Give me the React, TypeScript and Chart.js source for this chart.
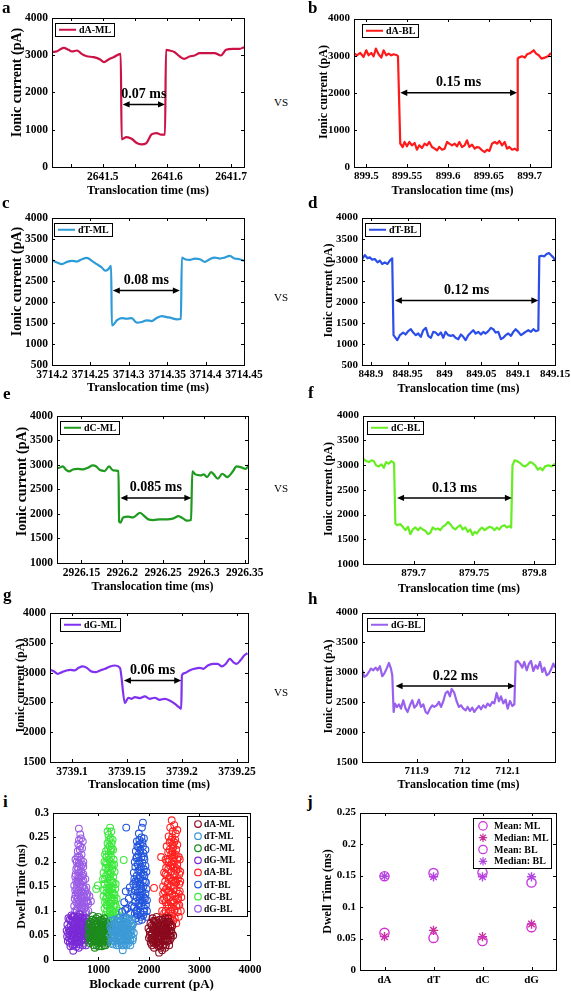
import React, { useEffect, useRef } from "react";
import { Chart, registerables } from "chart.js";

Chart.register(...registerables);

const SERIF = "'Liberation Serif', 'Times New Roman', Times, serif";

type Pt = [number, number];

/* ------------------------------------------------------------------ */
/* Current traces: [translocation time (ms), ionic current (pA)]       */
/* ------------------------------------------------------------------ */
const traceA_ML: Pt[] = [
  [2641.421, 3080], [2641.429, 3107], [2641.439, 3196], [2641.447, 3143], [2641.452, 3098], [2641.46, 3125],
  [2641.467, 3036], [2641.475, 2973], [2641.486, 2946], [2641.496, 2884], [2641.502, 2812], [2641.509, 2884],
  [2641.517, 2946], [2641.528, 3036], [2641.5295, 741], [2641.537, 804], [2641.545, 759], [2641.553, 643],
  [2641.56, 607], [2641.568, 643], [2641.576, 875], [2641.584, 910], [2641.591, 866], [2641.597, 866],
  [2641.5985, 3143], [2641.604, 3125], [2641.612, 3080], [2641.62, 2964], [2641.627, 2902], [2641.635, 2964],
  [2641.643, 2991], [2641.651, 3054], [2641.661, 3054], [2641.674, 3054], [2641.684, 2991], [2641.692, 3143],
  [2641.703, 3170], [2641.713, 3170], [2641.72, 3214],
];

const traceA_BL: Pt[] = [
  [899.4853, 3056], [899.4886, 3011], [899.4927, 3074], [899.4967, 2966], [899.5, 3146], [899.5029, 3011],
  [899.5061, 3074], [899.509, 2984], [899.5118, 3191], [899.5151, 3038], [899.5184, 2948], [899.5212, 3146],
  [899.5245, 3011], [899.5273, 3056], [899.5306, 3011], [899.5335, 3038], [899.5376, 3011], [899.5388, 2984],
  [899.5416, 629], [899.5445, 539], [899.5469, 674], [899.5498, 557], [899.5527, 674], [899.5559, 584],
  [899.5592, 647], [899.562, 467], [899.5649, 584], [899.5682, 512], [899.5714, 629], [899.5743, 584],
  [899.5771, 674], [899.5804, 539], [899.5837, 494], [899.5865, 449], [899.5894, 539], [899.5927, 467],
  [899.5959, 494], [899.5988, 674], [899.6016, 629], [899.6049, 584], [899.6082, 629], [899.611, 557],
  [899.6139, 674], [899.6171, 539], [899.6204, 584], [899.6233, 719], [899.6261, 539], [899.6294, 602],
  [899.6327, 494], [899.6355, 539], [899.6384, 521], [899.6416, 449], [899.6449, 404], [899.6478, 467],
  [899.6506, 431], [899.6539, 629], [899.6571, 674], [899.66, 629], [899.6629, 701], [899.6661, 584],
  [899.6694, 674], [899.6722, 494], [899.6751, 539], [899.6784, 467], [899.6816, 494], [899.6845, 449],
  [899.6853, 2921], [899.6865, 2948], [899.6906, 2984], [899.6939, 2948], [899.6967, 3038], [899.7008, 3074],
  [899.7049, 3146], [899.7078, 3056], [899.711, 3011], [899.7143, 2921], [899.7184, 2948], [899.7224, 2984],
  [899.726, 3074],
];

const traceT_ML: Pt[] = [
  [3714.2, 2993], [3714.2065, 2938], [3714.213, 2899], [3714.2195, 2954], [3714.226, 2978], [3714.2324, 2962],
  [3714.2389, 3017], [3714.2454, 3048], [3714.2519, 2978], [3714.2584, 2899], [3714.2649, 2820], [3714.2692, 2742],
  [3714.2735, 2781], [3714.277, 2860], [3714.2779, 1444], [3714.28, 1460], [3714.2843, 1562], [3714.2908, 1617],
  [3714.2973, 1601], [3714.3038, 1617], [3714.3103, 1507], [3714.3168, 1523], [3714.3233, 1562], [3714.3298, 1546],
  [3714.3362, 1617], [3714.3427, 1664], [3714.3492, 1640], [3714.3557, 1617], [3714.3622, 1585], [3714.3678, 1601],
  [3714.3691, 3056], [3714.373, 3017], [3714.3795, 3001], [3714.386, 3033], [3714.3925, 3017], [3714.399, 2954],
  [3714.4054, 3017], [3714.4119, 3056], [3714.4184, 3033], [3714.4249, 3056], [3714.4314, 3095], [3714.4379, 3033],
  [3714.4444, 3017], [3714.45, 2978],
];

const traceT_BL: Pt[] = [
  [848.8882, 3017], [848.8918, 3111], [848.8955, 3033], [848.8986, 3056], [848.9018, 3001], [848.9054, 3017],
  [848.9091, 2938], [848.9122, 2978], [848.9154, 2899], [848.919, 2938], [848.9226, 2899], [848.9258, 2978],
  [848.929, 3033], [848.9308, 1208], [848.9326, 1169], [848.9358, 1090], [848.9394, 1208], [848.9439, 1271],
  [848.9471, 1224], [848.9507, 1303], [848.9543, 1350], [848.9575, 1271], [848.9611, 1208], [848.9643, 1248],
  [848.9679, 1169], [848.9711, 1326], [848.9747, 1381], [848.9779, 1193], [848.9815, 1145], [848.9847, 1287],
  [848.9879, 1271], [848.9915, 1208], [848.9951, 1271], [848.9983, 1145], [849.0014, 1287], [849.005, 1208],
  [849.0087, 1193], [849.0119, 1208], [849.015, 1145], [849.0187, 1114], [849.0223, 1224], [849.0255, 1169],
  [849.0286, 1090], [849.0322, 1208], [849.0359, 1271], [849.039, 1326], [849.0422, 1248], [849.0458, 1287],
  [849.0495, 1224], [849.0526, 1287], [849.0558, 1248], [849.0594, 1303], [849.063, 1381], [849.0662, 1350],
  [849.0694, 1271], [849.073, 1287], [849.0766, 1114], [849.0798, 1145], [849.083, 1208], [849.0866, 1248],
  [849.0902, 1193], [849.0934, 1287], [849.0966, 1350], [849.1002, 1287], [849.1038, 1208], [849.107, 1248],
  [849.1101, 1287], [849.1138, 1326], [849.1174, 1287], [849.1206, 1350], [849.1238, 1303], [849.1274, 1326],
  [849.1287, 3080], [849.1319, 3095], [849.1355, 3080], [849.1386, 3135], [849.1418, 3158], [849.1454, 3095],
  [849.1477, 3056], [849.15, 2978],
];

const traceC_ML: Pt[] = [
  [2926.1187, 2935], [2926.1228, 2942], [2926.127, 2969], [2926.1311, 2901], [2926.1352, 2867], [2926.1393, 2908],
  [2926.1455, 2921], [2926.1516, 2908], [2926.1578, 2942], [2926.164, 2989], [2926.1681, 2969], [2926.1722, 2901],
  [2926.1784, 2874], [2926.1837, 2969], [2926.1887, 2888], [2926.1953, 2874], [2926.1961, 1843], [2926.1977, 1822],
  [2926.201, 1930], [2926.2072, 1944], [2926.2134, 1930], [2926.2175, 1978], [2926.2216, 2025], [2926.2257, 1978],
  [2926.2319, 1890], [2926.2381, 1876], [2926.2463, 1890], [2926.2545, 1890], [2926.2628, 1910], [2926.2689, 1957],
  [2926.2743, 1910], [2926.2792, 1863], [2926.2842, 1876], [2926.2858, 2867], [2926.2895, 2807], [2926.2957, 2787],
  [2926.2998, 2807], [2926.3039, 2753], [2926.3088, 2854], [2926.3121, 2807], [2926.3171, 2719], [2926.3224, 2820],
  [2926.3286, 2753], [2926.3348, 2854], [2926.3401, 2969], [2926.345, 2955], [2926.3512, 2921], [2926.3553, 3009],
];

const traceC_BL: Pt[] = [
  [879.6581, 3128], [879.6606, 3081], [879.6628, 3060], [879.665, 3094], [879.6669, 3081], [879.6689, 2993],
  [879.6711, 2973], [879.6733, 3013], [879.6752, 2946], [879.6771, 3060], [879.6793, 3027], [879.6815, 3081],
  [879.6837, 3040], [879.6848, 1819], [879.6862, 1785], [879.689, 1805], [879.6909, 1752], [879.6931, 1685],
  [879.6953, 1752], [879.6972, 1604], [879.6992, 1698], [879.7014, 1738], [879.7036, 1685], [879.7055, 1738],
  [879.7074, 1698], [879.7096, 1671], [879.7118, 1604], [879.7138, 1631], [879.7157, 1738], [879.7179, 1698],
  [879.7201, 1718], [879.722, 1685], [879.724, 1752], [879.7262, 1785], [879.7284, 1852], [879.7303, 1805],
  [879.7322, 1738], [879.7344, 1698], [879.7366, 1752], [879.7386, 1785], [879.7405, 1698], [879.7427, 1738],
  [879.7449, 1651], [879.7468, 1698], [879.7488, 1584], [879.7504, 1651], [879.7523, 1617], [879.7543, 1685],
  [879.7565, 1738], [879.7587, 1685], [879.7606, 1718], [879.7625, 1752], [879.7647, 1738], [879.7669, 1685],
  [879.7689, 1738], [879.7708, 1698], [879.773, 1765], [879.7752, 1785], [879.7771, 1738], [879.7791, 1765],
  [879.7807, 1738], [879.7818, 2993], [879.7835, 3094], [879.7854, 3081], [879.7882, 3040], [879.7901, 2993],
  [879.7923, 2973], [879.7945, 3013], [879.7964, 3060], [879.7983, 3040], [879.8006, 2993], [879.8028, 2906],
  [879.8047, 2946], [879.8066, 2893], [879.8088, 2973], [879.8116, 2993], [879.8143, 2973], [879.8171, 3027],
];

const traceG_ML: Pt[] = [
  [3739.0804, 3046], [3739.0834, 3023], [3739.0871, 2979], [3739.091, 3007], [3739.0949, 3035], [3739.0985, 3046],
  [3739.1021, 3035], [3739.106, 3079], [3739.1099, 3102], [3739.1135, 3079], [3739.1172, 3023], [3739.1211, 3007],
  [3739.1256, 3035], [3739.1301, 3063], [3739.1346, 3102], [3739.1391, 3118], [3739.1436, 3079], [3739.1481, 2488],
  [3739.1512, 2577], [3739.1542, 2560], [3739.1572, 2588], [3739.1617, 2571], [3739.1662, 2599], [3739.1707, 2560],
  [3739.1752, 2577], [3739.1797, 2543], [3739.1843, 2560], [3739.1888, 2532], [3739.1933, 2477], [3739.1978, 2410],
  [3739.1993, 2393], [3739.1999, 2951], [3739.2023, 2990], [3739.2068, 3035], [3739.2113, 3063], [3739.2159, 3079],
  [3739.2195, 3063], [3739.2234, 3118], [3739.2279, 3146], [3739.2324, 3146], [3739.2363, 3102], [3739.2399, 3146],
  [3739.2435, 3230], [3739.2466, 3174], [3739.2496, 3146], [3739.2535, 3213], [3739.2565, 3286], [3739.2595, 3324],
];

const traceG_BL: Pt[] = [
  [711.7806, 3035], [711.785, 2923], [711.7901, 2951], [711.7952, 3007], [711.7996, 3063], [711.8048, 3035],
  [711.8099, 3079], [711.8143, 3035], [711.8194, 3102], [711.8245, 2935], [711.8289, 2979], [711.8341, 3063],
  [711.8392, 3157], [711.8436, 3063], [711.8465, 2951], [711.8495, 2337], [711.8524, 2477], [711.8568, 2421],
  [711.8612, 2465], [711.8656, 2393], [711.8707, 2532], [711.8758, 2393], [711.8802, 2337], [711.8853, 2449],
  [711.8905, 2532], [711.8949, 2410], [711.9, 2449], [711.9051, 2543], [711.9095, 2421], [711.9147, 2465],
  [711.9198, 2337], [711.9242, 2309], [711.9293, 2393], [711.9344, 2449], [711.9388, 2421], [711.944, 2449],
  [711.9491, 2504], [711.9535, 2421], [711.9586, 2516], [711.9637, 2655], [711.9681, 2683], [711.9733, 2599],
  [711.9769, 2722], [711.9828, 2655], [711.9879, 2516], [711.993, 2421], [711.9974, 2449], [712.0026, 2393],
  [712.0077, 2365], [712.0121, 2421], [712.0172, 2354], [712.0223, 2410], [712.0267, 2337], [712.0319, 2393],
  [712.037, 2437], [712.0414, 2382], [712.0465, 2449], [712.0516, 2410], [712.056, 2477], [712.0612, 2437],
  [712.0663, 2504], [712.0707, 2482], [712.0758, 2655], [712.0809, 2516], [712.0853, 2599], [712.0905, 2482],
  [712.0956, 2543], [712.1, 2393], [712.1051, 2521], [712.1103, 2437], [712.1147, 2465], [712.1176, 3174],
  [712.122, 3191], [712.1271, 3146], [712.1322, 3079], [712.1366, 3174], [712.1418, 3035], [712.1469, 3146],
  [712.1513, 3191], [712.1564, 3023], [712.1615, 3118], [712.1659, 3063], [712.1711, 3174], [712.1762, 3007],
  [712.1806, 3079], [712.1857, 2951], [712.1908, 2979], [712.1952, 3046], [712.2004, 3146], [712.204, 3079],
];

/* dwell-time markers: [start ms, end ms, level pA] */
const arrowA_ML = [2641.531, 2641.597, 1680];
const arrowA_BL = [899.5416, 899.6845, 2000];
const arrowT_ML = [3714.2792, 3714.3665, 2270];
const arrowT_BL = [848.9326, 849.1274, 2030];
const arrowC_ML = [2926.1977, 2926.2846, 2328];
const arrowC_BL = [879.6862, 879.7813, 2336];
const arrowG_ML = [3739.1472, 3739.1993, 2867];
const arrowG_BL = [711.8538, 712.1161, 2772];
const dwellLabels = ["0.07 ms", "0.15 ms", "0.08 ms", "0.12 ms", "0.085 ms", "0.13 ms", "0.06 ms", "0.22 ms"];

/* axis ranges, tick positions and tick labels */
const rangeA_ML = [2641.421, 2641.72];
const rangeA_BL = [899.485, 899.726];
const rangeT_ML = [3714.2, 3714.45];
const rangeT_BL = [848.888, 849.15];
const rangeC_ML = [2926.12, 2926.354];
const rangeC_BL = [879.658, 879.817];
const rangeG_ML = [3739.08, 3739.26];
const rangeG_BL = [711.78, 712.204];

const ticksA_ML = [2641.45, 2641.5, 2641.55, 2641.6, 2641.65, 2641.7];
const labelsA_ML = [2641.5, 2641.6, 2641.7];
const ticksA_BL = [899.5, 899.55, 899.6, 899.65, 899.7];
const ticksT_ML = [3714.2, 3714.25, 3714.3, 3714.35, 3714.4, 3714.45];
const ticksT_BL = [848.9, 848.95, 849, 849.05, 849.1, 849.15];
const ticksC_ML = [2926.15, 2926.2, 2926.25, 2926.3, 2926.35];
const ticksC_BL = [879.7, 879.75, 879.8];
const ticksG_ML = [3739.1, 3739.15, 3739.2, 3739.25];
const ticksG_BL = [711.9, 712, 712.1];

const currentTicks0 = [0, 1000, 2000, 3000, 4000];
const currentTicks500 = [500, 1000, 1500, 2000, 2500, 3000, 3500, 4000];
const currentTicks1000 = [1000, 1500, 2000, 2500, 3000, 3500, 4000];
const currentTicks1500 = [1500, 2000, 2500, 3000, 3500, 4000];

/* ------------------------------------------------------------------ */
/* Panel i: [blockade current (pA), dwell time (ms)]                   */
/* ------------------------------------------------------------------ */
const scatterA_ML: Pt[] = [
  [2020, 0.05], [2050, 0.07], [2080, 0.04], [2110, 0.06], [2140, 0.08], [2170, 0.045], [2200, 0.065], [2230, 0.035],
  [2260, 0.075], [2290, 0.055], [2320, 0.085], [2350, 0.045], [2380, 0.065], [2410, 0.04], [2440, 0.06], [1990, 0.065],
  [2035, 0.035], [2065, 0.055], [2095, 0.08], [2125, 0.04], [2155, 0.062], [2185, 0.028], [2215, 0.05], [2245, 0.07],
  [2275, 0.04], [2305, 0.065], [2335, 0.03], [2365, 0.055], [2395, 0.078], [2425, 0.05], [2200, 0.015], [2260, 0.02],
  [2100, 0.025], [2150, 0.088], [2250, 0.055], [2180, 0.075], [2310, 0.042], [2070, 0.085], [2400, 0.03], [2460, 0.07],
  [2130, 0.05], [2230, 0.058], [2340, 0.068], [2050, 0.052], [2280, 0.03], [2190, 0.042], [2360, 0.078], [2000, 0.045],
  [2480, 0.05], [2160, 0.035], [2090, 0.068], [2210, 0.082], [2320, 0.05], [2430, 0.072], [2060, 0.03], [2270, 0.062],
  [2015, 0.058], [2045, 0.042], [2075, 0.062], [2105, 0.048], [2135, 0.07], [2165, 0.055], [2195, 0.038], [2225, 0.072],
  [2255, 0.045], [2285, 0.068], [2315, 0.058], [2345, 0.075], [2375, 0.04], [2405, 0.058], [2435, 0.045], [2030, 0.075],
  [2060, 0.045], [2090, 0.035], [2120, 0.065], [2150, 0.052], [2180, 0.06], [2210, 0.03], [2240, 0.048], [2270, 0.082],
  [2300, 0.05], [2330, 0.062], [2360, 0.038], [2390, 0.05], [2420, 0.068], [2450, 0.055], [2110, 0.078], [2170, 0.068],
  [2230, 0.025], [2290, 0.078], [2350, 0.06], [2240, 0.062], [2200, 0.048], [2140, 0.032], [2320, 0.025], [2380, 0.085],
];
const scatterT_ML: Pt[] = [
  [1240, 0.05], [1270, 0.07], [1300, 0.04], [1330, 0.06], [1360, 0.08], [1390, 0.045], [1420, 0.065], [1450, 0.035],
  [1480, 0.075], [1510, 0.055], [1540, 0.085], [1570, 0.045], [1600, 0.065], [1630, 0.04], [1660, 0.06], [1690, 0.075],
  [1255, 0.035], [1285, 0.058], [1315, 0.082], [1345, 0.04], [1375, 0.062], [1405, 0.03], [1435, 0.05], [1465, 0.07],
  [1495, 0.04], [1525, 0.065], [1555, 0.03], [1585, 0.055], [1615, 0.08], [1645, 0.05], [1675, 0.04], [1480, 0.02],
  [1400, 0.085], [1350, 0.052], [1440, 0.078], [1520, 0.048], [1580, 0.072], [1620, 0.058], [1300, 0.065], [1450, 0.055],
  [1550, 0.06], [1380, 0.035], [1490, 0.088], [1260, 0.062], [1700, 0.055], [1410, 0.055], [1530, 0.035], [1600, 0.035],
  [1340, 0.072], [1470, 0.045], [1560, 0.075], [1650, 0.07], [1320, 0.045], [1430, 0.038],
  [1235, 0.068], [1265, 0.045], [1295, 0.052], [1325, 0.075], [1355, 0.065], [1385, 0.058], [1415, 0.042], [1445, 0.068],
  [1475, 0.058], [1505, 0.068], [1535, 0.052], [1565, 0.06], [1595, 0.048], [1625, 0.068], [1655, 0.082], [1685, 0.045],
  [1250, 0.08], [1280, 0.032], [1310, 0.038], [1340, 0.058], [1370, 0.048], [1400, 0.07], [1430, 0.062], [1460, 0.03],
  [1490, 0.062], [1520, 0.078], [1550, 0.045], [1580, 0.04], [1610, 0.05], [1640, 0.062], [1670, 0.07], [1360, 0.03],
  [1420, 0.08], [1500, 0.03], [1590, 0.085], [1450, 0.045], [1540, 0.07], [1330, 0.048], [1630, 0.03], [1390, 0.072],
];
const scatterC_ML: Pt[] = [
  [800, 0.05], [830, 0.065], [860, 0.04], [890, 0.075], [920, 0.055], [950, 0.085], [980, 0.045], [1010, 0.07],
  [1040, 0.035], [1070, 0.06], [1100, 0.078], [1130, 0.048], [1160, 0.066], [1190, 0.04], [1210, 0.058], [815, 0.035],
  [845, 0.078], [875, 0.058], [905, 0.03], [935, 0.068], [965, 0.052], [995, 0.088], [1025, 0.058], [1055, 0.042],
  [1085, 0.068], [1115, 0.03], [1145, 0.055], [1175, 0.075], [880, 0.045], [940, 0.04], [1000, 0.028], [1060, 0.082],
  [1120, 0.062], [1030, 0.048], [960, 0.072], [900, 0.062], [850, 0.052], [1080, 0.05], [1150, 0.038], [990, 0.06],
  [1045, 0.072], [925, 0.025], [1105, 0.04], [970, 0.035], [1015, 0.045], [955, 0.058], [1065, 0.028], [890, 0.09],
  [1180, 0.052], [830, 0.045], [910, 0.048], [1035, 0.065], [1125, 0.072], [985, 0.075],
  [805, 0.065], [835, 0.055], [865, 0.07], [895, 0.05], [925, 0.08], [955, 0.04], [985, 0.052], [1015, 0.08],
  [1045, 0.055], [1075, 0.045], [1105, 0.06], [1135, 0.07], [1165, 0.045], [1195, 0.062], [820, 0.075], [850, 0.038],
  [880, 0.065], [910, 0.04], [940, 0.058], [970, 0.062], [1000, 0.045], [1030, 0.035], [1060, 0.065], [1090, 0.035],
  [1120, 0.052], [1150, 0.078], [1180, 0.035], [1200, 0.07], [870, 0.082], [930, 0.072], [990, 0.038], [1050, 0.05],
  [1110, 0.085], [960, 0.03], [1020, 0.062], [900, 0.042], [1140, 0.03], [1070, 0.072], [945, 0.048], [1005, 0.068],
];
const scatterG_ML: Pt[] = [
  [420, 0.045], [455, 0.062], [480, 0.038], [510, 0.071], [535, 0.052], [560, 0.084], [590, 0.041], [615, 0.066],
  [640, 0.049], [665, 0.078], [690, 0.058], [715, 0.035], [745, 0.069], [770, 0.047], [795, 0.06], [385, 0.072],
  [400, 0.055], [430, 0.082], [465, 0.091], [495, 0.049], [525, 0.032], [550, 0.058], [575, 0.073], [600, 0.088],
  [625, 0.036], [655, 0.06], [680, 0.043], [705, 0.083], [730, 0.054], [760, 0.078], [780, 0.062], [370, 0.06],
  [445, 0.028], [470, 0.054], [500, 0.019], [540, 0.04], [585, 0.055], [610, 0.025], [650, 0.071], [700, 0.064],
  [740, 0.042], [810, 0.072], [520, 0.088], [560, 0.027], [630, 0.093], [690, 0.03], [450, 0.07], [600, 0.06],
  [580, 0.047], [660, 0.052], [720, 0.075], [395, 0.039], [485, 0.078], [545, 0.066], [620, 0.077], [675, 0.087],
  [755, 0.03], [430, 0.059], [505, 0.06], [570, 0.035],
  [410, 0.065], [440, 0.05], [470, 0.042], [500, 0.065], [530, 0.075], [555, 0.045], [585, 0.068], [610, 0.052],
  [635, 0.06], [660, 0.04], [685, 0.07], [710, 0.05], [735, 0.062], [765, 0.055], [790, 0.045], [380, 0.048],
  [405, 0.085], [435, 0.035], [460, 0.08], [490, 0.03], [515, 0.055], [545, 0.08], [570, 0.06], [595, 0.078],
  [620, 0.045], [645, 0.085], [670, 0.065], [695, 0.045], [725, 0.04], [750, 0.085], [775, 0.072], [800, 0.052],
  [460, 0.06], [520, 0.045], [580, 0.038], [640, 0.07], [700, 0.078], [760, 0.065], [490, 0.088], [610, 0.032],
];
const scatterA_BL: Pt[] = [
  [2450, 0.285], [2500, 0.275], [2420, 0.27], [2470, 0.262], [2530, 0.258], [2390, 0.252], [2440, 0.245], [2500, 0.24],
  [2560, 0.235], [2350, 0.232], [2410, 0.225], [2470, 0.22], [2530, 0.215], [2590, 0.21], [2330, 0.205], [2390, 0.2],
  [2450, 0.195], [2510, 0.19], [2570, 0.185], [2620, 0.18], [2300, 0.178], [2360, 0.172], [2420, 0.168], [2480, 0.162],
  [2540, 0.158], [2600, 0.155], [2280, 0.15], [2340, 0.145], [2400, 0.14], [2460, 0.135], [2520, 0.13], [2580, 0.125],
  [2640, 0.128], [2270, 0.122], [2330, 0.118], [2390, 0.112], [2450, 0.108], [2510, 0.102], [2570, 0.098], [2630, 0.1],
  [2300, 0.095], [2360, 0.09], [2420, 0.085], [2480, 0.08], [2540, 0.075], [2380, 0.07], [2450, 0.068], [2100, 0.147],
  [2240, 0.21], [2560, 0.265], [2480, 0.23], [2380, 0.185], [2550, 0.142], [2320, 0.16], [2430, 0.118], [2610, 0.205],
  [2500, 0.152], [2350, 0.128], [2590, 0.088], [2260, 0.1],
  [2460, 0.25], [2520, 0.245], [2410, 0.24], [2470, 0.235], [2540, 0.225], [2380, 0.22], [2440, 0.215], [2500, 0.21],
  [2560, 0.205], [2360, 0.2], [2420, 0.192], [2480, 0.188], [2540, 0.182], [2600, 0.175], [2330, 0.175], [2390, 0.165],
  [2450, 0.16], [2510, 0.175], [2570, 0.165], [2620, 0.16], [2310, 0.14], [2370, 0.155], [2430, 0.15], [2490, 0.145],
  [2550, 0.125], [2610, 0.14], [2300, 0.125], [2360, 0.11], [2420, 0.128], [2480, 0.122], [2540, 0.11], [2600, 0.112],
  [2330, 0.1], [2390, 0.095], [2450, 0.09], [2510, 0.085], [2570, 0.112], [2420, 0.1], [2490, 0.2], [2440, 0.18],
  [2520, 0.16], [2400, 0.205], [2460, 0.222], [2560, 0.195], [2340, 0.188], [2500, 0.118], [2380, 0.138], [2590, 0.135],
  [2280, 0.135], [2470, 0.095],
];
const scatterT_BL: Pt[] = [
  [1550, 0.27], [1880, 0.28], [1860, 0.27], [1800, 0.258], [1850, 0.25], [1900, 0.248], [1760, 0.242], [1820, 0.236],
  [1880, 0.232], [1930, 0.225], [1740, 0.222], [1790, 0.215], [1850, 0.21], [1910, 0.205], [1720, 0.2], [1780, 0.195],
  [1840, 0.19], [1900, 0.185], [1950, 0.18], [1700, 0.178], [1760, 0.172], [1820, 0.168], [1880, 0.162], [1940, 0.158],
  [1690, 0.155], [1750, 0.15], [1810, 0.145], [1870, 0.14], [1930, 0.135], [1700, 0.132], [1760, 0.128], [1820, 0.122],
  [1880, 0.118], [1940, 0.112], [1710, 0.108], [1770, 0.102], [1830, 0.098], [1890, 0.092], [1950, 0.088], [1740, 0.085],
  [1800, 0.08], [1860, 0.082], [1470, 0.098], [1510, 0.118], [1540, 0.14], [1570, 0.105], [1600, 0.125], [1630, 0.095],
  [1650, 0.14], [1490, 0.085], [1560, 0.085], [1620, 0.148], [1660, 0.11], [1530, 0.102], [1790, 0.23], [1850, 0.145],
  [1730, 0.16], [1900, 0.21], [1800, 0.11], [1920, 0.125],
  [1810, 0.245], [1870, 0.24], [1770, 0.232], [1830, 0.225], [1890, 0.218], [1750, 0.208], [1810, 0.202], [1870, 0.198],
  [1930, 0.192], [1730, 0.19], [1790, 0.182], [1850, 0.178], [1910, 0.172], [1710, 0.165], [1770, 0.16], [1830, 0.155],
  [1890, 0.15], [1950, 0.145], [1720, 0.142], [1780, 0.138], [1840, 0.132], [1900, 0.128], [1960, 0.122], [1730, 0.118],
  [1790, 0.115], [1850, 0.11], [1910, 0.105], [1720, 0.095], [1780, 0.092], [1840, 0.088], [1900, 0.098], [1960, 0.1],
  [1760, 0.21], [1820, 0.185], [1880, 0.175], [1800, 0.165], [1860, 0.122], [1920, 0.16], [1750, 0.1], [1810, 0.128],
];
const scatterC_BL: Pt[] = [
  [1230, 0.27], [1255, 0.262], [1200, 0.255], [1240, 0.248], [1280, 0.245], [1180, 0.238], [1220, 0.232], [1265, 0.228],
  [1150, 0.222], [1200, 0.215], [1250, 0.21], [1300, 0.205], [1120, 0.2], [1170, 0.195], [1220, 0.19], [1270, 0.185],
  [1320, 0.18], [1100, 0.178], [1150, 0.172], [1200, 0.168], [1250, 0.162], [1300, 0.158], [1340, 0.155], [1120, 0.155],
  [1170, 0.148], [1220, 0.142], [1270, 0.138], [1320, 0.132], [1100, 0.13], [1150, 0.125], [1200, 0.12], [1250, 0.115],
  [1300, 0.11], [1350, 0.108], [1120, 0.105], [1170, 0.1], [1220, 0.095], [1270, 0.09], [1320, 0.085], [1380, 0.092],
  [1200, 0.078], [1250, 0.07], [1150, 0.085], [1410, 0.1], [987, 0.152], [955, 0.145], [1500, 0.204], [1180, 0.262],
  [1290, 0.225], [1130, 0.215], [1240, 0.178], [1190, 0.135], [1280, 0.122], [1330, 0.098], [1090, 0.165], [1210, 0.205],
  [1160, 0.112], [1260, 0.145], [1310, 0.195], [1230, 0.098],
  [1210, 0.245], [1260, 0.238], [1190, 0.228], [1240, 0.222], [1160, 0.21], [1230, 0.2], [1280, 0.195], [1140, 0.188],
  [1190, 0.182], [1240, 0.175], [1290, 0.17], [1130, 0.165], [1180, 0.158], [1230, 0.152], [1280, 0.148], [1330, 0.145],
  [1110, 0.142], [1160, 0.138], [1210, 0.132], [1260, 0.128], [1310, 0.122], [1130, 0.118], [1180, 0.11], [1230, 0.105],
  [1280, 0.1], [1330, 0.115], [1140, 0.092], [1190, 0.088], [1250, 0.085], [1300, 0.092], [1360, 0.125], [1260, 0.192],
  [1200, 0.145], [1150, 0.198], [1300, 0.135], [1220, 0.115], [1270, 0.158], [1170, 0.128], [1250, 0.225], [1180, 0.175],
];
const scatterG_BL: Pt[] = [
  [612, 0.268], [640, 0.256], [655, 0.248], [690, 0.242], [600, 0.236], [630, 0.225], [665, 0.215], [585, 0.21],
  [545, 0.205], [610, 0.198], [700, 0.2], [650, 0.19], [560, 0.185], [620, 0.178], [680, 0.172], [740, 0.165],
  [540, 0.17], [590, 0.16], [640, 0.155], [700, 0.15], [520, 0.152], [565, 0.145], [610, 0.142], [660, 0.138],
  [720, 0.13], [780, 0.135], [820, 0.13], [850, 0.12], [545, 0.132], [590, 0.125], [635, 0.118], [690, 0.112],
  [740, 0.108], [800, 0.115], [520, 0.11], [570, 0.102], [610, 0.095], [660, 0.1], [710, 0.09], [760, 0.098],
  [505, 0.09], [555, 0.085], [640, 0.083], [690, 0.125], [600, 0.115], [625, 0.165], [580, 0.19], [670, 0.16],
  [725, 0.145], [760, 0.12], [530, 0.125], [650, 0.205], [615, 0.245], [675, 0.228], [560, 0.16], [600, 0.172],
  [655, 0.128], [700, 0.175], [720, 0.115], [580, 0.138],
  [570, 0.2], [630, 0.195], [600, 0.185], [660, 0.18], [550, 0.175], [610, 0.168], [650, 0.17], [700, 0.162],
  [575, 0.155], [625, 0.15], [675, 0.148], [740, 0.14], [540, 0.142], [595, 0.135], [645, 0.132], [700, 0.135],
  [760, 0.13], [560, 0.118], [615, 0.122], [665, 0.115], [710, 0.12], [780, 0.12], [540, 0.1], [590, 0.108],
  [640, 0.1], [690, 0.098], [740, 0.095], [800, 0.1], [620, 0.21], [680, 0.195], [640, 0.232], [590, 0.222],
  [530, 0.09], [720, 0.105], [670, 0.085], [760, 0.148], [610, 0.158], [660, 0.108], [580, 0.128], [700, 0.19],
];
const scatterRangeX = [100, 4000];
const scatterRangeY = [0, 0.3];
const scatterTicksX = [1000, 2000, 3000, 4000];
const scatterTicksY = [0, 0.05, 0.1, 0.15, 0.2, 0.25, 0.3];

/* ------------------------------------------------------------------ */
/* Panel j: mean / median dwell time (ms)                              */
/* ------------------------------------------------------------------ */
const nucleotides = ["dA", "dT", "dC", "dG"];
const meanML = [0.059, 0.051, 0.046, 0.068];
const medianML = [0.053, 0.063, 0.053, 0.073];
const meanBL = [0.149, 0.154, 0.155, 0.139];
const medianBL = [0.149, 0.148, 0.148, 0.148];
const summaryRangeY = [0, 0.25];
const summaryTicksY = [0, 0.05, 0.1, 0.15, 0.2, 0.25];

/* ------------------------------------------------------------------ */
/* Layout (page pixels)                                                */
/* ------------------------------------------------------------------ */
const LAYOUT: Record<string, any> = {
  a: { plot: [52, 17, 244, 167], yTitleX: 17, yTitleSize: 14, yTitleDy: -10, xTitleY: 191, legend: [3, 5], tick: 11.5 },
  b: { plot: [354, 18, 551, 167], yTitleX: 324, yTitleSize: 12, yTitleDy: -1, xTitleY: 191, legend: [8, 5], tick: 11 },
  c: { plot: [52, 217, 244, 365], yTitleX: 17, yTitleSize: 14, yTitleDy: -10, xTitleY: 388, legend: [2, 5], tick: 11.5 },
  d: { plot: [362, 217, 555, 365], yTitleX: 329, yTitleSize: 12, yTitleDy: -1, xTitleY: 389, legend: [3, 5], tick: 11 },
  e: { plot: [57, 415, 248, 563], yTitleX: 22, yTitleSize: 14, yTitleDy: -8, xTitleY: 587, legend: [3, 5], tick: 11.5 },
  f: { plot: [363, 415, 555, 564], yTitleX: 329, yTitleSize: 12, yTitleDy: -1, xTitleY: 589, legend: [4, 5], tick: 11 },
  g: { plot: [50, 612, 248, 762], yTitleX: 21, yTitleSize: 12, yTitleDy: -2, xTitleY: 785, legend: [10, 5], tick: 11.5 },
  h: { plot: [362, 612, 555, 762], yTitleX: 329, yTitleSize: 12, yTitleDy: -1, xTitleY: 785, legend: [5, 5], tick: 11 },
  i: { plot: [53, 812, 250, 960], yTitleX: 22, yTitleSize: 12, yTitleDy: 0, xTitleY: 985, tick: 11.5 },
  j: { plot: [360, 812, 556, 970], yTitleX: 328, yTitleSize: 12, yTitleDy: 0, xTitleY: null, tick: 11 },
};

const LETTERS = [
  { t: "a", x: 2, b: 13 }, { t: "b", x: 308, b: 13 },
  { t: "c", x: 2, b: 208 }, { t: "d", x: 308, b: 208 },
  { t: "e", x: 3, b: 399 }, { t: "f", x: 308, b: 398 },
  { t: "g", x: 3, b: 600 }, { t: "h", x: 308, b: 604 },
  { t: "i", x: 3, b: 807 }, { t: "j", x: 307, b: 807 },
];
const VS_Y = [103, 298, 489, 693];

function geom(L: any) {
  const [pl, pt, pr, pb] = L.plot;
  const x = Math.round(L.yTitleX - 12);
  const y = pt - 10;
  const right = pr + 26;
  const bottom = L.xTitleY ? L.xTitleY + 10 : pb + 20;
  return { x, y, w: right - x, h: bottom - y, yW: pl - x, xH: bottom - pb, padT: 10, padR: 26 };
}

/* ------------------------------------------------------------------ */
/* Decoration plugin: box, inward ticks, y title, legend, arrows       */
/* ------------------------------------------------------------------ */
function drawMarker(ctx: CanvasRenderingContext2D, style: string, x: number, y: number, r: number, color: string) {
  ctx.strokeStyle = color;
  ctx.lineWidth = 1.2;
  ctx.beginPath();
  if (style === "star") {
    for (let k = 0; k < 4; k++) {
      const a = (k * Math.PI) / 4;
      ctx.moveTo(x - r * Math.cos(a), y - r * Math.sin(a));
      ctx.lineTo(x + r * Math.cos(a), y + r * Math.sin(a));
    }
  } else {
    ctx.arc(x, y, r, 0, Math.PI * 2);
  }
  ctx.stroke();
}

const decoPlugin = {
  id: "deco",
  afterDraw(chart: any, _args: any, o: any) {
    const ctx: CanvasRenderingContext2D = chart.ctx;
    const ca = chart.chartArea;
    const L = Math.round(ca.left), T = Math.round(ca.top), R = Math.round(ca.right), B = Math.round(ca.bottom);
    const xs = chart.scales.x, ys = chart.scales.y;
    ctx.save();
    ctx.strokeStyle = "#000";
    ctx.lineWidth = 1;
    ctx.beginPath();
    xs.ticks.forEach((_t: any, i: number) => {
      const px = Math.round(xs.getPixelForTick(i)) + 0.5;
      ctx.moveTo(px, B); ctx.lineTo(px, B - 3);
      ctx.moveTo(px, T); ctx.lineTo(px, T + 3);
    });
    ys.ticks.forEach((_t: any, i: number) => {
      const py = Math.round(ys.getPixelForTick(i)) + 0.5;
      ctx.moveTo(L, py); ctx.lineTo(L + 3, py);
      ctx.moveTo(R, py); ctx.lineTo(R - 3, py);
    });
    ctx.stroke();
    ctx.strokeRect(L + 0.5, T + 0.5, R - L, B - T);

    if (o.yTitle) {
      ctx.save();
      ctx.translate(o.yTitle.x, (T + B) / 2 + o.yTitle.dy);
      ctx.rotate(-Math.PI / 2);
      ctx.font = `bold ${o.yTitle.size}px ${SERIF}`;
      ctx.fillStyle = "#000";
      ctx.textAlign = "center";
      ctx.textBaseline = "middle";
      ctx.fillText(o.yTitle.text, 0, 0);
      ctx.restore();
    }

    if (o.arrow) {
      const p1 = xs.getPixelForValue(o.arrow.x1);
      const p2 = xs.getPixelForValue(o.arrow.x2);
      const py = ys.getPixelForValue(o.arrow.y);
      ctx.strokeStyle = "#000";
      ctx.fillStyle = "#000";
      ctx.lineWidth = 1.5;
      ctx.beginPath();
      ctx.moveTo(p1 + 5, py); ctx.lineTo(p2 - 5, py);
      ctx.stroke();
      ctx.beginPath();
      ctx.moveTo(p1, py); ctx.lineTo(p1 + 7, py - 3.2); ctx.lineTo(p1 + 7, py + 3.2); ctx.closePath();
      ctx.moveTo(p2, py); ctx.lineTo(p2 - 7, py - 3.2); ctx.lineTo(p2 - 7, py + 3.2); ctx.closePath();
      ctx.fill();
      ctx.font = `bold 14px ${SERIF}`;
      ctx.textAlign = "center";
      ctx.textBaseline = "middle";
      ctx.fillText(o.arrow.text, (p1 + p2) / 2, py - 10);
    }

    if (o.legend) {
      const lg = o.legend;
      ctx.font = `bold ${lg.size}px ${SERIF}`;
      const items = chart.data.datasets.map((d: any) => ({ label: d.label, color: d.borderColor, style: d.pointStyle }));
      const tw = Math.max(...items.map((it: any) => ctx.measureText(it.label).width));
      const w = Math.round(lg.textX + tw + lg.padR);
      const h = Math.round(items.length * lg.rowH + lg.padV * 2);
      const bx = Math.round(lg.corner === "tl" ? L + lg.dx : R - lg.dx - w);
      const by = Math.round(T + lg.dy);
      ctx.fillStyle = "#fff";
      ctx.fillRect(bx, by, w, h);
      ctx.strokeStyle = "#000";
      ctx.lineWidth = 1;
      ctx.strokeRect(bx + 0.5, by + 0.5, w, h);
      items.forEach((it: any, i: number) => {
        const cy = by + lg.padV + lg.rowH * (i + 0.5) + 0.5;
        if (lg.kind === "line") {
          ctx.strokeStyle = it.color;
          ctx.lineWidth = 2;
          ctx.beginPath();
          ctx.moveTo(bx + lg.lineX0, cy); ctx.lineTo(bx + lg.lineX1, cy);
          ctx.stroke();
        } else {
          drawMarker(ctx, it.style, bx + lg.markX, cy, lg.markR, it.color);
        }
        ctx.fillStyle = "#000";
        ctx.font = `bold ${lg.size}px ${SERIF}`;
        ctx.textAlign = "left";
        ctx.textBaseline = "middle";
        ctx.fillText(it.label, bx + lg.textX, cy + 0.5);
      });
    }
    ctx.restore();
  },
};

/* ------------------------------------------------------------------ */
/* Axis helpers                                                        */
/* ------------------------------------------------------------------ */
function linearAxis(range: number[], ticks: number[], size: number, pad: number, fit: (s: any) => void, title?: any, labeled?: number[]) {
  return {
    type: "linear",
    min: range[0],
    max: range[1],
    grid: { display: false, drawTicks: false },
    border: { display: false },
    afterBuildTicks: (s: any) => {
      s.ticks = ticks.map((v) => ({ value: v }));
    },
    afterFit: fit,
    ticks: {
      autoSkip: false,
      maxRotation: 0,
      minRotation: 0,
      padding: pad,
      color: "#000",
      font: { family: SERIF, size, weight: "bold" },
      callback: (v: any) => (labeled && labeled.indexOf(v) < 0 ? "" : String(v)),
    },
    title: title || { display: false },
  };
}

function xTitle(text: string, size: number, bottomPad: number) {
  return {
    display: true,
    text,
    color: "#000",
    font: { family: SERIF, size, weight: "bold" },
    padding: { top: 0, bottom: bottomPad },
  };
}

/* ------------------------------------------------------------------ */
/* Panels                                                              */
/* ------------------------------------------------------------------ */
const tracePanels = [
  { key: "a", label: "dA-ML", data: traceA_ML, color: "#cc1144", smooth: true, xr: rangeA_ML, xt: ticksA_ML, xl: labelsA_ML, yr: [0, 4000], yt: currentTicks0, arrow: arrowA_ML, text: dwellLabels[0] },
  { key: "b", label: "dA-BL", data: traceA_BL, color: "#ff1a1a", smooth: false, xr: rangeA_BL, xt: ticksA_BL, yr: [0, 4000], yt: currentTicks0, arrow: arrowA_BL, text: dwellLabels[1] },
  { key: "c", label: "dT-ML", data: traceT_ML, color: "#2d9bd8", smooth: true, xr: rangeT_ML, xt: ticksT_ML, yr: [500, 4000], yt: currentTicks500, arrow: arrowT_ML, text: dwellLabels[2] },
  { key: "d", label: "dT-BL", data: traceT_BL, color: "#2b4de8", smooth: false, xr: rangeT_BL, xt: ticksT_BL, yr: [500, 4000], yt: currentTicks500, arrow: arrowT_BL, text: dwellLabels[3] },
  { key: "e", label: "dC-ML", data: traceC_ML, color: "#1e9a1e", smooth: true, xr: rangeC_ML, xt: ticksC_ML, yr: [1000, 4000], yt: currentTicks1000, arrow: arrowC_ML, text: dwellLabels[4] },
  { key: "f", label: "dC-BL", data: traceC_BL, color: "#66ee22", smooth: false, xr: rangeC_BL, xt: ticksC_BL, yr: [1000, 4000], yt: currentTicks1000, arrow: arrowC_BL, text: dwellLabels[5] },
  { key: "g", label: "dG-ML", data: traceG_ML, color: "#8030f0", smooth: true, xr: rangeG_ML, xt: ticksG_ML, yr: [1500, 4000], yt: currentTicks1500, arrow: arrowG_ML, text: dwellLabels[6] },
  { key: "h", label: "dG-BL", data: traceG_BL, color: "#9960ee", smooth: false, xr: rangeG_BL, xt: ticksG_BL, yr: [1500, 4000], yt: currentTicks1500, arrow: arrowG_BL, text: dwellLabels[7] },
];

function traceConfig(p: any) {
  const L = LAYOUT[p.key];
  const g = geom(L);
  return {
    type: "line",
    data: {
      datasets: [
        {
          label: p.label,
          data: p.data.map(([x, y]: Pt) => ({ x, y })),
          borderColor: p.color,
          backgroundColor: p.color,
          borderWidth: 2.2,
          pointRadius: 0,
          fill: false,
          tension: 0,
          cubicInterpolationMode: p.smooth ? "monotone" : "default",
          borderJoinStyle: "round",
        },
      ],
    },
    options: {
      responsive: false,
      animation: false,
      devicePixelRatio: 1,
      events: [],
      layout: { padding: { left: 0, top: g.padT, right: g.padR, bottom: 0 } },
      plugins: {
        legend: { display: false },
        tooltip: { enabled: false },
        deco: {
          yTitle: { text: "Ionic current (pA)", size: L.yTitleSize, x: L.yTitleX - g.x, dy: L.yTitleDy },
          arrow: { x1: p.arrow[0], x2: p.arrow[1], y: p.arrow[2], text: p.text },
          legend: { corner: "tl", kind: "line", dx: L.legend[0], dy: L.legend[1], size: 10, rowH: 12.5, padV: 0, lineX0: 4, lineX1: 21, textX: 24, padR: 3 },
        },
      },
      scales: {
        x: linearAxis(p.xr, p.xt, L.tick, 3, (s: any) => { s.height = g.xH; }, xTitle("Translocation time (ms)", 12, 2.8), p.xl),
        y: linearAxis(p.yr, p.yt, L.tick, 4, (s: any) => { s.width = g.yW; }),
      },
    },
    plugins: [decoPlugin],
  };
}

const scatterSeries = [
  { label: "dA-ML", data: scatterA_ML, color: "#8c0a1e" },
  { label: "dT-ML", data: scatterT_ML, color: "#3d9ad6" },
  { label: "dC-ML", data: scatterC_ML, color: "#1d8c1d" },
  { label: "dG-ML", data: scatterG_ML, color: "#7a2ad6" },
  { label: "dA-BL", data: scatterA_BL, color: "#ff2020" },
  { label: "dT-BL", data: scatterT_BL, color: "#2255dd" },
  { label: "dC-BL", data: scatterC_BL, color: "#3ce83c" },
  { label: "dG-BL", data: scatterG_BL, color: "#9a5ce6" },
];

function scatterConfig() {
  const L = LAYOUT.i;
  const g = geom(L);
  return {
    type: "scatter",
    data: {
      datasets: scatterSeries.map((s) => ({
        label: s.label,
        data: s.data.map(([x, y]) => ({ x, y })),
        borderColor: s.color,
        backgroundColor: "rgba(0,0,0,0)",
        pointStyle: "circle",
        pointRadius: 3.4,
        borderWidth: 1.1,
      })),
    },
    options: {
      responsive: false,
      animation: false,
      devicePixelRatio: 1,
      events: [],
      layout: { padding: { left: 0, top: g.padT, right: g.padR, bottom: 0 } },
      plugins: {
        legend: { display: false },
        tooltip: { enabled: false },
        deco: {
          yTitle: { text: "Dwell Time (ms)", size: L.yTitleSize, x: L.yTitleX - g.x, dy: L.yTitleDy },
          legend: { corner: "tr", kind: "marker", dx: 3, dy: 3, size: 9.5, rowH: 12.1, padV: 1.5, markX: 11, markR: 3.3, textX: 17, padR: 12 },
        },
      },
      scales: {
        x: linearAxis(scatterRangeX, scatterTicksX, L.tick, 3, (s: any) => { s.height = g.xH; }, xTitle("Blockade current (pA)", 13, 2.2)),
        y: linearAxis(scatterRangeY, scatterTicksY, L.tick, 4, (s: any) => { s.width = g.yW; }),
      },
    },
    plugins: [decoPlugin],
  };
}

const summarySeries = [
  { label: "Mean: ML", data: meanML, color: "#d030d0", style: "circle" },
  { label: "Median: ML", data: medianML, color: "#c8309a", style: "star" },
  { label: "Mean: BL", data: meanBL, color: "#c438e0", style: "circle" },
  { label: "Median: BL", data: medianBL, color: "#b048e0", style: "star" },
];

function summaryConfig() {
  const L = LAYOUT.j;
  const g = geom(L);
  return {
    type: "line",
    data: {
      labels: nucleotides,
      datasets: summarySeries.map((s) => ({
        label: s.label,
        data: s.data,
        showLine: false,
        borderColor: s.color,
        backgroundColor: "rgba(0,0,0,0)",
        pointStyle: s.style,
        pointRadius: 4.6,
        pointBorderWidth: 1.4,
        borderWidth: 1.4,
      })),
    },
    options: {
      responsive: false,
      animation: false,
      devicePixelRatio: 1,
      events: [],
      layout: { padding: { left: 0, top: g.padT, right: g.padR, bottom: 0 } },
      plugins: {
        legend: { display: false },
        tooltip: { enabled: false },
        deco: {
          yTitle: { text: "Dwell Time (ms)", size: L.yTitleSize, x: L.yTitleX - g.x, dy: L.yTitleDy },
          legend: { corner: "tr", kind: "marker", dx: 5, dy: 5, size: 10, rowH: 11.8, padV: 1.5, markX: 10, markR: 4.2, textX: 21, padR: 2 },
        },
      },
      scales: {
        x: {
          type: "category",
          offset: true,
          grid: { display: false, drawTicks: false },
          border: { display: false },
          afterFit: (s: any) => { s.height = g.xH; },
          ticks: { padding: 3.4, color: "#000", font: { family: SERIF, size: L.tick, weight: "bold" }, maxRotation: 0, autoSkip: false },
        },
        y: linearAxis(summaryRangeY, summaryTicksY, L.tick, 4, (s: any) => { s.width = g.yW; }),
      },
    },
    plugins: [decoPlugin],
  };
}

/* ------------------------------------------------------------------ */
/* Components                                                          */
/* ------------------------------------------------------------------ */
function PanelChart({ panelKey, make }: { panelKey: string; make: () => any }) {
  const ref = useRef<HTMLCanvasElement | null>(null);
  const g = geom(LAYOUT[panelKey]);
  useEffect(() => {
    const chart = new Chart(ref.current as HTMLCanvasElement, make() as any);
    return () => chart.destroy();
  }, []);
  return (
    <canvas
      ref={ref}
      width={g.w}
      height={g.h}
      style={{ position: "absolute", left: g.x, top: g.y, width: g.w, height: g.h }}
    />
  );
}

export default function App() {
  return (
    <div
      style={{
        position: "absolute",
        left: 0,
        top: 0,
        width: 571,
        height: 992,
        overflow: "hidden",
        background: "#fff",
      }}
    >
      {tracePanels.map((p) => (
        <PanelChart key={p.key} panelKey={p.key} make={() => traceConfig(p)} />
      ))}
      <PanelChart panelKey="i" make={scatterConfig} />
      <PanelChart panelKey="j" make={summaryConfig} />
      {LETTERS.map((l) => (
        <div
          key={l.t}
          style={{
            position: "absolute",
            left: l.x,
            top: l.b - 14,
            font: `bold 17px ${SERIF}`,
            lineHeight: "17px",
            color: "#000",
          }}
        >
          {l.t}
        </div>
      ))}
      {VS_Y.map((y, i) => (
        <div
          key={i}
          style={{
            position: "absolute",
            left: 274,
            top: y - 7,
            font: `11px ${SERIF}`,
            lineHeight: "13px",
            color: "#000",
          }}
        >
          VS
        </div>
      ))}
    </div>
  );
}
